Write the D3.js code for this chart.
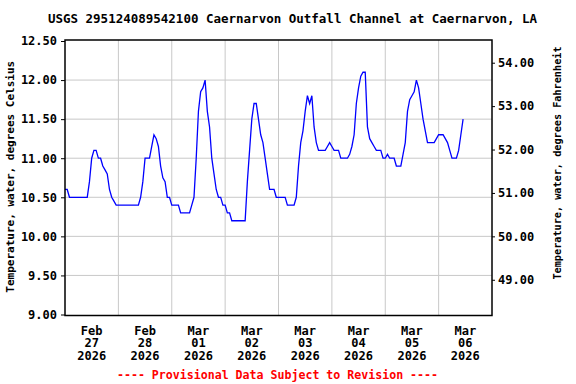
<!DOCTYPE html>
<html>
<head>
<meta charset="utf-8">
<script src="https://d3js.org/d3.v7.min.js"></script>
<style>
body { margin: 0; background: #fff; }
text { font-family: "DejaVu Sans Mono", monospace; font-weight: bold; fill: #000; }
</style>
</head>
<body>
<div id="chart"></div>
<script>
let title = "USGS 295124089542100 Caernarvon Outfall Channel at Caernarvon, LA";
let leftLabel = "Temperature, water, degrees Celsius";
let rightLabel = "Temperature, water, degrees Fahrenheit";
let footer = "---- Provisional Data Subject to Revision ----";

let dayLabels = [
    ["Feb", "27", "2026"], ["Feb", "28", "2026"], ["Mar", "01", "2026"], ["Mar", "02", "2026"],
    ["Mar", "03", "2026"], ["Mar", "04", "2026"], ["Mar", "05", "2026"], ["Mar", "06", "2026"]
];
let celsiusTicks = [9.0, 9.5, 10.0, 10.5, 11.0, 11.5, 12.0, 12.5];
let fahrenheitTicks = [49, 50, 51, 52, 53, 54];

// hourly readings starting Feb 27 2026 00:00
let startTime = Date.UTC(2026, 1, 27);
let endTime = Date.UTC(2026, 2, 7);
let tempC = [
    10.6, 10.6, 10.5, 10.5, 10.5, 10.5, 10.5, 10.5, 10.5, 10.5,
    10.5, 10.7, 11.0, 11.1, 11.1, 11.0, 11.0, 10.9, 10.85, 10.8,
    10.6, 10.5, 10.45, 10.4,
    10.4, 10.4, 10.4, 10.4, 10.4, 10.4, 10.4, 10.4, 10.4, 10.4,
    10.5, 10.7, 11.0, 11.0, 11.0, 11.15,
    11.3, 11.25, 11.15, 10.9, 10.75, 10.7, 10.5, 10.5,
    10.4, 10.4, 10.4, 10.4, 10.3, 10.3, 10.3, 10.3, 10.3, 10.4,
    10.5, 11.0, 11.6, 11.85, 11.9, 12.0, 11.6, 11.4, 11.0, 10.8,
    10.6, 10.5, 10.5, 10.4,
    10.4, 10.3, 10.3, 10.2, 10.2, 10.2, 10.2, 10.2, 10.2, 10.2,
    10.7, 11.1, 11.5, 11.7, 11.7, 11.5, 11.3, 11.2, 11.0, 10.8,
    10.6, 10.6, 10.6, 10.5,
    10.5, 10.5, 10.5, 10.5, 10.4, 10.4, 10.4, 10.4, 10.5, 10.9,
    11.2, 11.35, 11.6, 11.8, 11.7, 11.8, 11.4, 11.2, 11.1, 11.1,
    11.1, 11.1, 11.15, 11.2,
    11.15, 11.1, 11.1, 11.1, 11.0, 11.0, 11.0, 11.0, 11.05, 11.15,
    11.3, 11.7, 11.9, 12.05, 12.1, 12.1, 11.4, 11.25, 11.2, 11.15,
    11.1, 11.1, 11.1, 11.0,
    11.0, 11.05, 11.0, 11.0, 11.0, 10.9, 10.9, 10.9, 11.05, 11.2,
    11.6, 11.75, 11.8, 11.85, 12.0, 11.9, 11.7, 11.5, 11.35, 11.2,
    11.2, 11.2, 11.2, 11.25,
    11.3, 11.3, 11.3, 11.25, 11.2, 11.1, 11.0, 11.0, 11.0, 11.1,
    11.3, 11.5
];

let data = tempC.map((v, i) => ({t: new Date(startTime + i * 3600000), v: v}));

let margin = {top: 40, right: 84, bottom: 68.5, left: 65},
    width = 576 - margin.left - margin.right,
    height = 384 - margin.top - margin.bottom;

let x = d3.scaleUtc().domain([new Date(startTime), new Date(endTime)]).range([0, width]);
let y = d3.scaleLinear().domain([9, 12.5]).range([height - 1, 1]);
let yF = d3.scaleLinear().domain([9 * 1.8 + 32, 12.5 * 1.8 + 32]).range([height - 1, 1]);

let svg = d3.select("#chart")
    .append("svg")
    .attr("width", 576)
    .attr("height", 384)
    .append("g")
    .attr("transform", "translate(" + margin.left + "," + margin.top + ")");

// grid
let midnights = d3.utcDay.range(new Date(startTime + 1), new Date(endTime));
svg.append("g").selectAll("line.vgrid")
    .data(midnights)
    .enter().append("line")
    .attr("x1", d => x(d)).attr("x2", d => x(d))
    .attr("y1", 0).attr("y2", height)
    .attr("stroke", "#c8c8c8")
    .attr("stroke-width", 1);

svg.append("g").selectAll("line.hgrid")
    .data(celsiusTicks.slice(1, -1))
    .enter().append("line")
    .attr("x1", 0).attr("x2", width)
    .attr("y1", d => y(d)).attr("y2", d => y(d))
    .attr("stroke", "#c8c8c8")
    .attr("stroke-width", 1);

// axes
let yAxis = d3.axisLeft(y).tickValues(celsiusTicks).tickFormat(d3.format(".2f")).tickSize(4).tickPadding(4);
let yAxisR = d3.axisRight(yF).tickValues(fahrenheitTicks).tickFormat(d3.format(".2f")).tickSize(3).tickPadding(3);

svg.append("g")
    .attr("class", "y axis")
    .call(yAxis)
    .call(g => g.select(".domain").remove())
    .call(g => g.selectAll("text").style("font-size", "12px").style("font-family", "'DejaVu Sans Mono', monospace"));

svg.append("g")
    .attr("class", "y axis right")
    .attr("transform", "translate(" + width + ",0)")
    .call(yAxisR)
    .call(g => g.select(".domain").remove())
    .call(g => g.selectAll("text").style("font-size", "12px").style("font-family", "'DejaVu Sans Mono', monospace"));

// data line
let lineGenerator = d3.line()
    .x(d => x(d.t))
    .y(d => y(d.v));

svg.append("path")
    .datum(data)
    .attr("fill", "none")
    .attr("stroke", "#0000ff")
    .attr("stroke-width", 1.3)
    .attr("d", lineGenerator);

// frame
svg.append("rect")
    .attr("width", width)
    .attr("height", height)
    .attr("fill", "none")
    .attr("stroke", "#000")
    .attr("stroke-width", 1.5);

// day labels centered at noon
let noons = midnights.map(d => new Date(+d - 12 * 3600000)).concat([new Date(endTime - 12 * 3600000)]);
let dayText = svg.append("g").selectAll("text.day")
    .data(dayLabels)
    .enter().append("text")
    .attr("text-anchor", "middle")
    .attr("transform", (d, i) => "translate(" + x(noons[i]) + "," + (height + 19) + ")")
    .style("font-size", "12px");

dayText.selectAll("tspan")
    .data(d => d)
    .enter().append("tspan")
    .attr("x", 0)
    .attr("y", (d, i) => i * 12.7)
    .text(d => d);

// title
svg.append("text")
    .attr("text-anchor", "middle")
    .attr("x", 292.5 - margin.left)
    .attr("y", 23 - margin.top)
    .style("font-size", "12.5px")
    .text(title);

// left axis label
svg.append("text")
    .attr("text-anchor", "middle")
    .attr("transform", "translate(" + (14 - margin.left) + "," + (height / 2 - 1) + ") rotate(-90)")
    .style("font-size", "11px")
    .text(leftLabel);

// right axis label
svg.append("text")
    .attr("text-anchor", "middle")
    .attr("transform", "translate(" + (561 - margin.left) + "," + (163 - margin.top) + ") rotate(-90)")
    .style("font-size", "10.2px")
    .text(rightLabel);

// footer
svg.append("text")
    .attr("text-anchor", "middle")
    .attr("x", 277.5 - margin.left)
    .attr("y", 379 - margin.top)
    .style("font-size", "11.6px")
    .style("fill", "#ff0000")
    .text(footer);
</script>
</body>
</html>
